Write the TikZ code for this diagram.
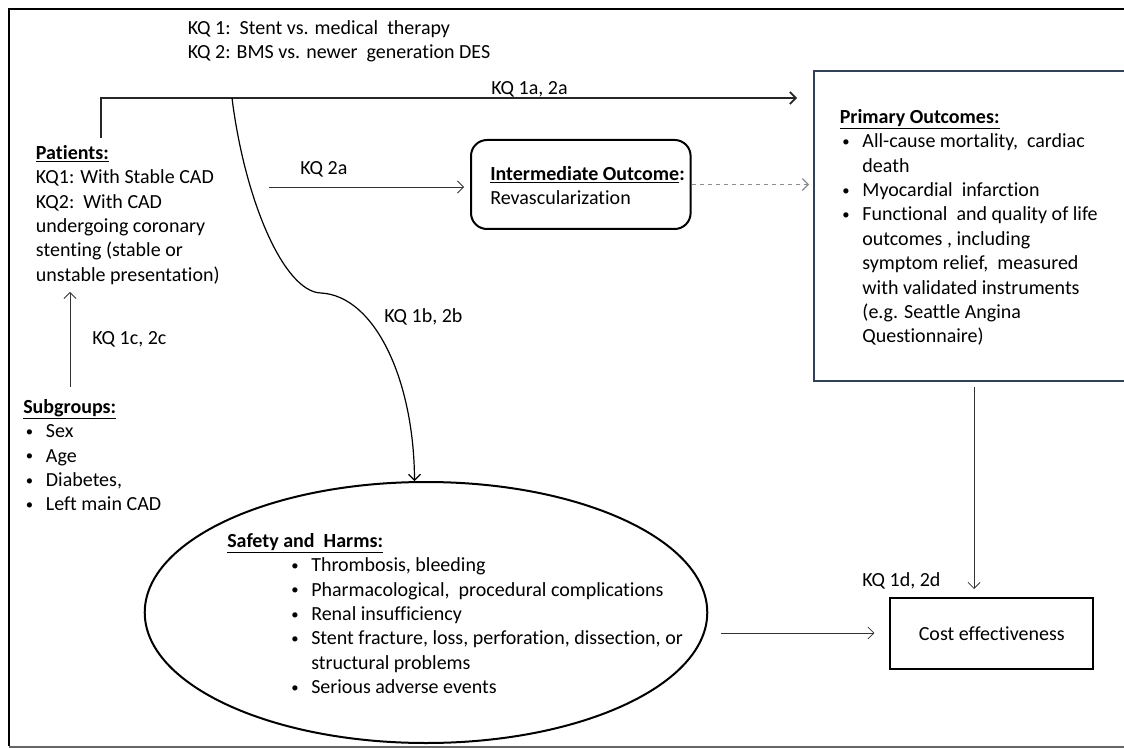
\documentclass[tikz,border=0pt]{standalone}
\usepackage{fontspec}
\setmainfont{Carlito}[Ligatures=NoCommon]
\usetikzlibrary{shapes.geometric, arrows.meta}
\newcommand{\hd}[1]{\underline{\textbf{#1}}}
\newcommand{\bul}{\makebox[17pt][l]{\hspace{2pt}\raisebox{1pt}{\fontsize{11}{11}\selectfont\textbullet}}}
\definecolor{slate}{RGB}{50,64,88}

\begin{document}
\begin{tikzpicture}[x=0.75pt, y=-0.75pt,
        every node/.style = {inner sep=0, font=\fontsize{15}{18.3}\selectfont},
        >={Straight Barb[length=4.5pt, width=9pt]},
        txt/.style = {anchor=north west},
        lbl/.style = {anchor=base west},
        thin arrow/.style = {->, line width=0.6pt, draw=black!80},
        boxline/.style = {draw, line width=1.5pt}]
    \useasboundingbox (0,0) rectangle (1124,748);
    \draw[line width=2.2pt] (1140,9) -- (9,9) -- (9,746);
    \draw[line width=1.5pt, black!60] (9,746.5) -- (1140,746.5);

    \node[txt] (kqs) at (187.5,17) {\begin{tabular}{@{}l@{}}
        KQ 1:\ \ Stent vs. medical\ \ therapy\\
        KQ 2: BMS vs. newer\ \ generation DES
    \end{tabular}};
    \node[txt] (patients) at (35.7,142) {\begin{tabular}{@{}l@{}}
        \hd{Patients:}\\
        KQ1: With Stable CAD\\
        KQ2:\ \ With CAD\\
        undergoing coronary\\
        stenting (stable or\\
        unstable presentation)
    \end{tabular}};
    \node[txt] (subgroups) at (23,396) {\begin{tabular}{@{}l@{}l@{}}
        \multicolumn{2}{@{}l@{}}{\hd{Subgroups:}}\\
        \bul & Sex\\
        \bul & Age\\
        \bul & Diabetes,\\
        \bul & Left main CAD
    \end{tabular}};

    \node[boxline, rounded corners=12pt, minimum width=164.7pt, minimum height=66.75pt] (inter) at (580.8,184.5) {};
    \node[txt] (intertext) at (490,163) {\begin{tabular}{@{}l@{}}
        \hd{Intermediate Outcome}\textbf{:}\\
        Revascularization
    \end{tabular}};

    \node[boxline, draw=slate, minimum width=244.8pt, minimum height=232.5pt] (primary) at (977,226) {};
    \node[txt] (primarytext) at (839.5,106) {\begin{tabular}{@{}l@{}l@{}}
        \multicolumn{2}{@{}l@{}}{\hd{Primary Outcomes:}}\\
        \bul & All-cause mortality,\ \ cardiac\\
             & death\\
        \bul & Myocardial\ \ infarction\\
        \bul & Functional\ \ and quality of life\\
             & outcomes , including\\
             & symptom relief,\ \ measured\\
             & with validated instruments\\
             & (e.g. Seattle Angina\\
             & Questionnaire)
    \end{tabular}};

    \node[ellipse, boxline, minimum width=421.9pt, minimum height=195.75pt] (safety) at (426,612.5) {};
    \node[txt] (safetytext) at (227,530) {\begin{tabular}{@{\hspace{46pt}}l@{}l@{}}
        \multicolumn{2}{@{}l@{}}{\hd{Safety and\ \ Harms:}}\\
        \bul & Thrombosis, bleeding\\
        \bul & Pharmacological,\ \ procedural complications\\
        \bul & Renal insufficiency\\
        \bul & Stent fracture, loss, perforation, dissection, or\\
             & structural problems\\
        \bul & Serious adverse events
    \end{tabular}};

    \node[boxline, minimum width=152.6pt, minimum height=53.25pt] (cost) at (991.75,633.5) {Cost effectiveness\hspace{12pt}};

    \node[lbl] (kq1a) at (491,95) {KQ 1a, 2a};
    \node[lbl] (kq2a) at (300,175) {KQ 2a};
    \node[lbl] (kq1b) at (384,323) {KQ 1b, 2b};
    \node[lbl] (kq1c) at (92,345) {KQ 1c, 2c};
    \node[lbl] (kq1d) at (862,586) {KQ 1d, 2d};

    \coordinate (ptop) at (101,138);
    \coordinate (mainend) at (797,98);
    \coordinate (fork) at (232,98);
    \coordinate (bump) at (321,293);
    \coordinate (sgtop) at (70,387);
    \coordinate (pbot) at (70,292);
    \coordinate (kq2start) at (269,187);
    \coordinate (harmstart) at (721,633);
    \coordinate (pdown) at (974,387);

    \draw[->, line width=1.3pt, draw=black!85] (ptop) |- (mainend);
    \draw[->, line width=0.9pt] (fork) .. controls (244.7,200) and (283.9,292) .. (bump)
        .. controls (375,296) and (414,380) .. (safety.95);
    \draw[thin arrow] (sgtop) -- (pbot);
    \draw[thin arrow, shorten >=4.5pt] (kq2start) -- (kq2start -| inter.west);
    \draw[thin arrow, dashed, draw=black!45, line width=1pt, shorten >=2.7pt] (inter.east) -- (inter.east -| primary.west);
    \draw[thin arrow, shorten >=6pt] (pdown) -- (pdown |- cost.north);
    \draw[thin arrow, shorten >=10.9pt] (harmstart) -- (harmstart -| cost.west);
\end{tikzpicture}
\end{document}
